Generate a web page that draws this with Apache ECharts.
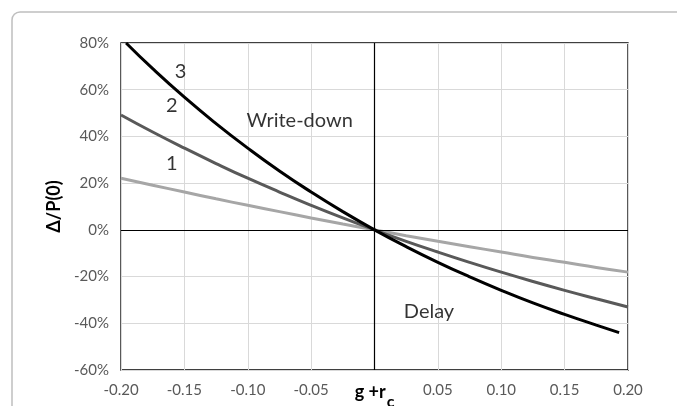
<!DOCTYPE html>
<html><head><meta charset="utf-8">
<script src="https://cdn.jsdelivr.net/npm/echarts@6/dist/echarts.min.js"></script>
<style>html,body{margin:0;padding:0;background:#fff}#c{width:677px;height:406px}</style>
</head><body><div id="c"></div>
<script>
// x values (g + r_c)
const xValues = [-0.2, -0.175, -0.15, -0.125, -0.1, -0.075, -0.05, -0.025, 0, 0.025, 0.05, 0.075, 0.1, 0.125, 0.15, 0.175, 0.2];
const curve1 = [0.221, 0.191, 0.162, 0.133, 0.105, 0.078, 0.051, 0.025, 0, -0.025, -0.049, -0.072, -0.095, -0.118, -0.139, -0.161, -0.181];
const curve2 = [0.492, 0.419, 0.350, 0.284, 0.221, 0.162, 0.105, 0.051, 0, -0.049, -0.095, -0.139, -0.181, -0.221, -0.259, -0.295, -0.330];
const curve3X = [-0.196, -0.175, -0.15, -0.125, -0.1, -0.075, -0.05, -0.025, 0, 0.025, 0.05, 0.075, 0.1, 0.125, 0.15, 0.175, 0.193];
const curve3 = [0.800, 0.690, 0.568, 0.455, 0.350, 0.252, 0.162, 0.078, 0, -0.072, -0.139, -0.201, -0.259, -0.313, -0.362, -0.408, -0.440];
const annotations = [
  {text: '3', x: -0.153, y: 0.676},
  {text: '2', x: -0.160, y: 0.531},
  {text: '1', x: -0.160, y: 0.283},
  {text: 'Write-down', x: -0.059, y: 0.467},
  {text: 'Delay', x: 0.043, y: -0.351}
];

const FONT = 'Lato, "Open Sans", sans-serif';
const chart = echarts.init(document.getElementById('c'));
const pair = (xs, ys) => xs.map((x, i) => [x, ys[i]]);
chart.setOption({
  animation: false,
  textStyle: {fontFamily: FONT},
  graphic: [{
    type: 'rect', shape: {x: 12, y: 12, width: 700, height: 420, r: 8},
    style: {fill: 'none', stroke: '#bfbfbf', lineWidth: 1.5}, z: -1
  }],
  grid: {left: 121, right: 49, top: 43, bottom: 36, containLabel: false, outerBoundsMode: 'none',
    show: true, borderColor: '#000', borderWidth: 1.3, backgroundColor: 'transparent'},
  xAxis: {
    type: 'value', min: -0.2, max: 0.2, interval: 0.05,
    axisLine: {show: false}, axisTick: {show: false},
    splitLine: {lineStyle: {color: '#d9d9d9', width: 1}},
    axisLabel: {
      margin: 13, color: '#595959', fontSize: 15, fontFamily: FONT,
      formatter: v => Math.abs(v) < 1e-9 ? '{b|g +r}{s|c}' : v.toFixed(2),
      rich: {
        b: {fontWeight: 'bold', fontSize: 18, color: '#000', fontFamily: FONT, verticalAlign: 'top'},
        s: {fontWeight: 'bold', fontSize: 16, color: '#000', fontFamily: FONT, verticalAlign: 'bottom', padding: [11, 0, 0, 1]}
      }
    }
  },
  yAxis: {
    type: 'value', min: -0.6, max: 0.8, interval: 0.2,
    name: 'Δ/P(0)', nameLocation: 'middle', nameGap: 54, nameRotate: 90,
    nameTextStyle: {fontWeight: 'bold', fontSize: 18, color: '#000', fontFamily: FONT},
    axisLine: {show: false}, axisTick: {show: false},
    splitLine: {lineStyle: {color: '#d9d9d9', width: 1}},
    axisLabel: {margin: 12, color: '#595959', fontSize: 15, fontFamily: FONT,
      formatter: v => Math.round(v * 100) + '%'}
  },
  series: [
    {type: 'line', data: pair(xValues, curve1), smooth: true, showSymbol: false,
      lineStyle: {color: '#a6a6a6', width: 3}, z: 3,
      markLine: {silent: true, symbol: 'none', label: {show: false},
        lineStyle: {color: '#000', width: 1.2, type: 'solid'},
        data: [{xAxis: 0}, {yAxis: 0}]}},
    {type: 'line', data: pair(xValues, curve2), smooth: true, showSymbol: false,
      lineStyle: {color: '#595959', width: 3}, z: 4},
    {type: 'line', data: pair(curve3X, curve3), smooth: true, showSymbol: false,
      lineStyle: {color: '#000', width: 3}, z: 5},
    {type: 'scatter', symbolSize: 0, silent: true,
      data: annotations.map(a => ({value: [a.x, a.y], name: a.text})),
      label: {show: true, position: 'inside', formatter: p => p.name,
        color: '#000', fontSize: 20, fontFamily: FONT}}
  ]
});
</script></body></html>
